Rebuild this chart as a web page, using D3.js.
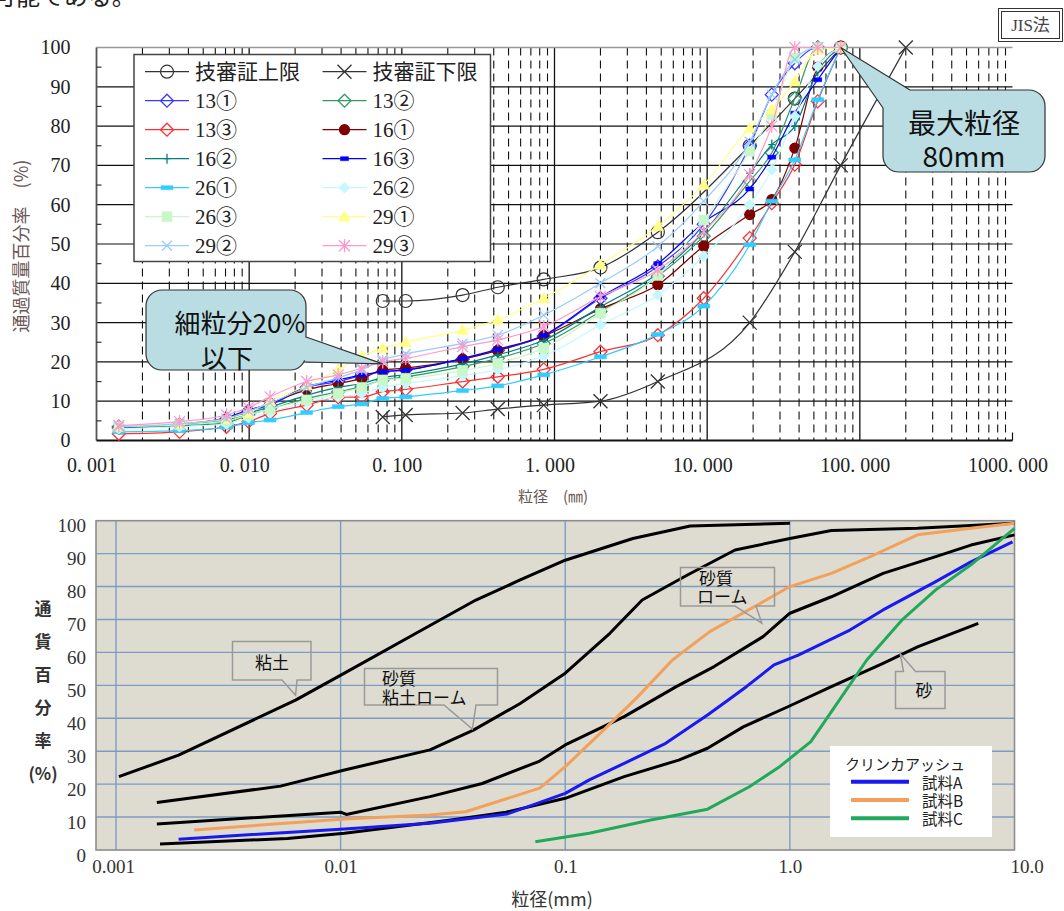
<!DOCTYPE html>
<html>
<head>
<meta charset="utf-8">
<style>
  body { margin: 0; background: #fff; }
  svg text { font-family: "Liberation Serif", "Noto Sans CJK JP", serif; }
  svg text.jp { font-family: "Noto Sans CJK JP", "Liberation Sans", sans-serif; }
  svg text.sans { font-family: "Liberation Sans", "Noto Sans CJK JP", sans-serif; }
</style>
<script src="https://cdn.jsdelivr.net/npm/d3@7"></script>
</head>
<body>
<script>
// ---- top chart data (particle size mm / passing %)
const sieveMm = [0.0014, 0.0035, 0.0071, 0.0099, 0.0137, 0.0238, 0.0383, 0.0546, 0.075, 0.106,
                 0.25, 0.425, 0.85, 2, 4.75, 9.5, 19, 26.5, 37.5, 53, 75];
const upperLimitMm  = [0.075, 0.106, 0.25, 0.425, 0.85, 2, 4.75, 19, 37.5, 75];
const upperLimitPct = [35.5, 35.5, 37, 39, 41, 44, 53, 75, 87, 100];
const lowerLimitMm  = [0.075, 0.106, 0.25, 0.425, 0.85, 2, 4.75, 19, 37.5, 75, 200];
const lowerLimitPct = [6, 6.5, 7, 8, 9, 10, 15, 30, 48, 70, 100];

const s13_1 = [3.5, 4.0, 5.5, 7.5, 9.0, 13.5, 15.0, 16.5, 17.5, 18.0, 20.7, 22.9, 26.6, 36.2, 44.3, 55.0, 75.0, 88.0, 96.0, 100, 100];
const s13_2 = [3.2, 3.8, 4.5, 6.5, 8.0, 10.7, 12.4, 13.7, 15.4, 16.2, 18.8, 20.9, 24.7, 32.8, 41.8, 52.0, 66.0, 73.2, 87.0, 100, 100];
const s13_3 = [1.7, 2.2, 3.5, 4.8, 6.9, 9.0, 11.0, 11.1, 12.4, 13.0, 15.0, 16.2, 18.1, 22.6, 26.8, 36.2, 51.5, 60.4, 70.2, 86.3, 100];
const s16_1 = [3.4, 4.2, 5.5, 7.5, 9.5, 12.9, 14.5, 15.8, 17.9, 18.4, 20.7, 22.9, 26.6, 33.5, 39.6, 49.5, 57.5, 61.3, 74.4, 95.0, 100];
const s16_2 = [3.3, 4.0, 5.0, 7.0, 8.5, 11.5, 13.5, 14.5, 16.0, 16.8, 19.5, 21.8, 25.5, 34.0, 42.5, 53.0, 68.0, 75.3, 80.0, 93.9, 100];
const s16_3 = [3.4, 4.2, 5.8, 7.8, 9.3, 13.7, 15.4, 16.7, 17.5, 17.9, 20.9, 23.2, 26.8, 36.5, 45.0, 55.5, 64.0, 72.1, 83.3, 91.8, 100];
const s26_1 = [2.2, 2.5, 3.4, 4.5, 5.2, 7.1, 8.6, 9.3, 10.7, 11.1, 12.7, 13.9, 16.7, 21.3, 27.0, 34.2, 49.8, 60.9, 71.4, 86.7, 100];
const s26_2 = [3.0, 3.5, 4.2, 5.8, 7.2, 9.8, 11.0, 12.0, 13.5, 14.5, 16.5, 18.0, 21.5, 29.4, 37.0, 46.9, 60.0, 68.9, 82.5, 95.2, 100];
const s26_3 = [3.5, 4.0, 5.0, 6.5, 8.0, 10.3, 12.0, 13.5, 15.4, 15.8, 17.8, 19.6, 23.5, 32.4, 42.0, 56.1, 73.6, 82.9, 97.3, 100, 100];
const s29_1 = [3.6, 4.3, 5.5, 7.0, 10.0, 14.0, 18.0, 21.5, 23.5, 25.0, 28.1, 30.7, 36.2, 44.7, 54.5, 65.1, 79.5, 84.2, 91.4, 99.4, 100];
const s29_2 = [3.5, 4.3, 5.6, 7.5, 9.5, 13.5, 16.0, 18.0, 20.5, 22.0, 24.7, 26.8, 31.9, 40.0, 49.4, 60.9, 76.0, 88.0, 97.0, 100, 100];
const s29_3 = [3.8, 4.8, 6.5, 8.4, 11.1, 15.0, 16.7, 18.4, 20.0, 20.9, 23.9, 25.6, 29.0, 36.6, 43.4, 53.2, 67.6, 80.0, 100, 100, 100];

const topXTicks = [0.001, 0.01, 0.1, 1, 10, 100, 1000];
const topXLabels = ["0. 001", "0. 010", "0. 100", "1. 000", "10. 000", "100. 000", "1000. 000"];
const topYTicks = [0, 10, 20, 30, 40, 50, 60, 70, 80, 90, 100];

// ---- bottom chart data
const clayMm  = [0.00103, 0.0019, 0.0063, 0.0104, 0.023, 0.04, 0.063, 0.1, 0.2, 0.36, 1.0];
const clayPct = [22.3, 28.8, 45.5, 53.7, 66.8, 75.9, 82, 88, 94.6, 98.4, 99.2];
const sandyClayLoamMm  = [0.00152, 0.0054, 0.0104, 0.025, 0.039, 0.063, 0.1, 0.158, 0.22, 0.35, 0.57, 1.0, 1.53, 3.7, 10];
const sandyClayLoamPct = [14.4, 19.4, 24.3, 30.4, 36.4, 44.5, 53.7, 65.8, 75.9, 83.5, 91.1, 94.6, 97, 97.7, 99.2];
const sandyLoamMm  = [0.00152, 0.0100, 0.0106, 0.025, 0.0427, 0.077, 0.1, 0.183, 0.312, 0.46, 0.76, 1.0, 1.53, 2.6, 4.46, 6.4, 10];
const sandyLoamPct = [7.9, 11.5, 10.8, 16.2, 20.2, 27, 31.9, 40.5, 49.6, 55.7, 64.8, 71.9, 76.9, 84, 89.1, 92.6, 95.7];
const sandMm  = [0.00157, 0.0058, 0.0104, 0.031, 0.0545, 0.1, 0.183, 0.32, 0.43, 0.62, 0.98, 1.53, 2.6, 3.7, 6.9];
const sandPct = [1.8, 3.5, 5.1, 9.1, 11.5, 15.7, 22.3, 27.3, 30.9, 37.4, 43.5, 49.6, 56.7, 61.7, 68.8];
const sampleAMm  = [0.0019, 0.0104, 0.025, 0.055, 0.1, 0.128, 0.183, 0.28, 0.43, 0.53, 0.64, 0.85, 1.09, 1.85, 2.6, 4.46, 6.4, 9.8];
const sampleAPct = [3.3, 6.4, 8.1, 10.9, 17.2, 21.3, 26.3, 32.4, 41, 45.5, 49.6, 56.2, 59.2, 66.8, 72.9, 81.5, 87.5, 93.6];
const sampleBMm  = [0.00223, 0.0104, 0.025, 0.036, 0.077, 0.1, 0.148, 0.21, 0.3, 0.44, 0.76, 1.0, 1.53, 2.2, 3.7, 6.4, 10];
const sampleBPct = [6.1, 9.4, 10.6, 11.6, 18.8, 25.3, 36.4, 46.5, 57.7, 66.3, 75.4, 80, 84, 88.6, 95.7, 97.7, 99.2];
const sampleCMm  = [0.0736, 0.128, 0.24, 0.43, 0.66, 0.9, 1.24, 1.66, 2.2, 3.15, 4.46, 6.4, 10];
const sampleCPct = [2.5, 5.1, 9.1, 12.4, 19.2, 25.3, 32.9, 45.5, 57.7, 69.8, 79, 86.6, 97.7];

const botXTicks = [0.001, 0.01, 0.1, 1, 10];
const botXLabels = ["0.001", "0.01", "0.1", "1.0", "10.0"];
const botYTicks = [0, 10, 20, 30, 40, 50, 60, 70, 80, 90, 100];

// ---- styles
const topSeries = [
  {name: "技審証上限", x: upperLimitMm, y: upperLimitPct, color: "#333", marker: "circleOpen", size: 6.5},
  {name: "技審証下限", x: lowerLimitMm, y: lowerLimitPct, color: "#333", marker: "x", size: 7},
  {name: "13①", x: sieveMm, y: s13_1, color: "#3838ff", marker: "diamondOpen", size: 6.5},
  {name: "13②", x: sieveMm, y: s13_2, color: "#339966", marker: "diamondOpen", size: 6.5},
  {name: "13③", x: sieveMm, y: s13_3, color: "#ff3030", marker: "diamondOpen", size: 6.5},
  {name: "16①", x: sieveMm, y: s16_1, color: "#800000", marker: "circleFilled", size: 5},
  {name: "16②", x: sieveMm, y: s16_2, color: "#008080", marker: "plus", size: 5},
  {name: "16③", x: sieveMm, y: s16_3, color: "#0000ff", marker: "rectSmall", size: 4},
  {name: "26①", x: sieveMm, y: s26_1, color: "#33ccff", marker: "dash", size: 6},
  {name: "26②", x: sieveMm, y: s26_2, color: "#c4f8ff", marker: "diamondFilled", size: 5.5},
  {name: "26③", x: sieveMm, y: s26_3, color: "#c8f8c8", marker: "square", size: 5},
  {name: "29①", x: sieveMm, y: s29_1, color: "#ffff88", marker: "triangle", size: 6},
  {name: "29②", x: sieveMm, y: s29_2, color: "#99ccff", marker: "x", size: 5},
  {name: "29③", x: sieveMm, y: s29_3, color: "#ff99cc", marker: "asterisk", size: 5.5}
];
const botSeries = [
  {x: clayMm, y: clayPct, color: "#000", width: 3},
  {x: sandyClayLoamMm, y: sandyClayLoamPct, color: "#000", width: 3},
  {x: sandyLoamMm, y: sandyLoamPct, color: "#000", width: 3},
  {x: sandMm, y: sandPct, color: "#000", width: 3},
  {x: sampleBMm, y: sampleBPct, color: "#f2a05a", width: 3},
  {x: sampleAMm, y: sampleAPct, color: "#1a1af0", width: 3},
  {x: sampleCMm, y: sampleCPct, color: "#22a85a", width: 3}
];
const botLegend = [
  {name: "試料A", color: "#1a1af0"},
  {name: "試料B", color: "#f2a05a"},
  {name: "試料C", color: "#22a85a"}
];

function markerPath(type, s) {
  switch (type) {
    case "x": return `M${-s},${-s}L${s},${s}M${-s},${s}L${s},${-s}`;
    case "plus": return `M0,${-s}L0,${s}M${-s * 0.7},0L${s * 0.7},0`;
    case "asterisk": return `M${-s},${-s}L${s},${s}M${-s},${s}L${s},${-s}M0,${-s * 1.2}L0,${s * 1.2}`;
    case "diamondOpen": case "diamondFilled": return `M0,${-s}L${s},0L0,${s}L${-s},0Z`;
    case "triangle": return `M0,${-s}L${s},${s * 0.75}L${-s},${s * 0.75}Z`;
    case "square": return `M${-s},${-s}h${2 * s}v${2 * s}h${-2 * s}Z`;
    case "rectSmall": return `M${-s},${-s / 2}h${2 * s}v${s}h${-2 * s}Z`;
    case "dash": return `M${-s},${-2}h${2 * s}v4h${-2 * s}Z`;
  }
  return "";
}
function drawMarker(g, sr, px, py) {
  if (sr.marker === "circleOpen" || sr.marker === "circleFilled") {
    g.append("circle").attr("cx", px).attr("cy", py).attr("r", sr.size)
      .attr("fill", sr.marker === "circleFilled" ? sr.color : "none")
      .attr("stroke", sr.color).attr("stroke-width", 1.2);
    return;
  }
  const filled = ["diamondFilled", "triangle", "square", "rectSmall", "dash"].includes(sr.marker);
  g.append("path").attr("transform", `translate(${px},${py})`)
    .attr("d", markerPath(sr.marker, sr.size))
    .attr("fill", filled ? sr.color : "none")
    .attr("stroke", sr.color).attr("stroke-width", filled ? 0.5 : 1.3);
}

const svg = d3.select("body").append("svg").attr("width", 1064).attr("height", 911);

// page text fragment at the very top (cut off in the original too)
svg.append("text").attr("class", "jp").attr("x", -8).attr("y", 5)
  .attr("font-size", 24).attr("fill", "#222").text("可能である。");

// ================= TOP CHART =================
const tx = d3.scaleLog().domain([0.001, 1000]).range([96.5, 1012.5]);
const ty = d3.scaleLinear().domain([0, 100]).range([440.5, 47.5]);
const topG = svg.append("g");

// minor dashed verticals
const minors = [];
[0.001, 0.01, 0.1, 1, 10, 100].forEach(d => { for (let k = 2; k <= 9; k++) minors.push(d * k); });
topG.selectAll("line.minor").data(minors).join("line")
  .attr("x1", d => tx(d)).attr("x2", d => tx(d)).attr("y1", ty(100)).attr("y2", ty(0))
  .attr("stroke", "#111").attr("stroke-width", 1.1).attr("stroke-dasharray", "8,5");
// horizontal grid
topG.selectAll("line.hgrid").data(topYTicks.filter(d => d > 0 && d < 100)).join("line")
  .attr("x1", tx(0.001)).attr("x2", tx(1000)).attr("y1", d => ty(d)).attr("y2", d => ty(d))
  .attr("stroke", "#111").attr("stroke-width", 1.2);
// decade verticals
topG.selectAll("line.vgrid").data(topXTicks.slice(1, -1)).join("line")
  .attr("x1", d => tx(d)).attr("x2", d => tx(d)).attr("y1", ty(100)).attr("y2", ty(0))
  .attr("stroke", "#111").attr("stroke-width", 1.3);
// top border, left axis, bottom axis
topG.append("line").attr("x1", tx(0.001)).attr("x2", tx(1000)).attr("y1", ty(100)).attr("y2", ty(100))
  .attr("stroke", "#999").attr("stroke-width", 1.5);
topG.append("line").attr("x1", tx(0.001)).attr("x2", tx(0.001)).attr("y1", ty(100)).attr("y2", ty(0))
  .attr("stroke", "#555").attr("stroke-width", 1.8);
topG.append("line").attr("x1", tx(0.001)).attr("x2", tx(1000)).attr("y1", ty(0)).attr("y2", ty(0))
  .attr("stroke", "#111").attr("stroke-width", 1.8);
topG.append("line").attr("x1", tx(1000)).attr("x2", tx(1000)).attr("y1", ty(0)).attr("y2", ty(0) - 8)
  .attr("stroke", "#111").attr("stroke-width", 1.2);
// minor y ticks (5, 15, ...)
topG.selectAll("line.ytick").data(d3.range(5, 100, 10)).join("line")
  .attr("x1", tx(0.001)).attr("x2", tx(0.001) + 5).attr("y1", d => ty(d)).attr("y2", d => ty(d))
  .attr("stroke", "#333").attr("stroke-width", 1.2);

// axes labels
const yAxisTop = topG.append("g").attr("transform", `translate(${tx(0.001) - 26},0)`)
  .call(d3.axisLeft(ty).tickValues(topYTicks).tickSize(0).tickPadding(0));
yAxisTop.select(".domain").remove();
yAxisTop.selectAll("text").attr("font-family", "Liberation Serif").attr("font-size", 20).attr("fill", "#222");
const xAxisTop = topG.append("g").attr("transform", `translate(-5,${ty(0)})`)
  .call(d3.axisBottom(tx).tickValues(topXTicks).tickFormat((d, i) => topXLabels[i]).tickSize(0).tickPadding(17));
xAxisTop.select(".domain").remove();
xAxisTop.selectAll("text").attr("font-family", "Liberation Serif").attr("font-size", 20).attr("fill", "#222");

topG.append("text").attr("class", "jp").attr("transform", "translate(20,246) rotate(-90)")
  .attr("text-anchor", "middle").attr("dominant-baseline", "central")
  .attr("font-size", 18).attr("fill", "#6a5656").text("通過質量百分率　(%)");
topG.append("text").attr("class", "jp").attr("x", 553).attr("y", 495)
  .attr("text-anchor", "middle").attr("dominant-baseline", "central")
  .attr("font-size", 15).attr("fill", "#6a5656").text("粒径　(㎜)");

// series
const lineGen = d3.line().x(d => tx(d[0])).y(d => ty(d[1])).curve(d3.curveMonotoneX);
topSeries.forEach(sr => {
  const pts = sr.x.map((v, i) => [v, sr.y[i]]);
  topG.append("path").attr("d", lineGen(pts)).attr("fill", "none")
    .attr("stroke", sr.color).attr("stroke-width", 1.2);
  const mg = topG.append("g");
  pts.forEach(p => drawMarker(mg, sr, tx(p[0]), ty(p[1])));
});

// legend
const lg = topG.append("g");
lg.append("rect").attr("x", 134).attr("y", 54.5).attr("width", 356.5).attr("height", 207)
  .attr("fill", "#fff").attr("stroke", "#444").attr("stroke-width", 1.5);
topSeries.forEach((sr, i) => {
  const col = i % 2, row = Math.floor(i / 2);
  const cx = col === 0 ? 167 : 344.5, cy = 71.7 + row * 29;
  lg.append("line").attr("x1", cx - 22).attr("x2", cx + 22).attr("y1", cy).attr("y2", cy)
    .attr("stroke", sr.color).attr("stroke-width", 1.3);
  drawMarker(lg, sr, cx, cy);
  lg.append("text").attr("x", cx + 28).attr("y", cy).attr("dominant-baseline", "central")
    .attr("font-size", 21).attr("fill", "#222").text(sr.name);
});

// JIS box
svg.append("rect").attr("x", 998.5).attr("y", 8.5).attr("width", 64).attr("height", 33)
  .attr("fill", "#fff").attr("stroke", "#333").attr("stroke-width", 1);
svg.append("rect").attr("x", 1001.5).attr("y", 11.5).attr("width", 58).attr("height", 27)
  .attr("fill", "none").attr("stroke", "#333").attr("stroke-width", 1);
svg.append("text").attr("x", 1030.5).attr("y", 25).attr("text-anchor", "middle")
  .attr("dominant-baseline", "central").attr("font-size", 17).attr("fill", "#444").text("JIS法");

// callouts (top)
function bubble(g, box, base, tip, lines) {
  g.append("rect").attr("x", box[0]).attr("y", box[1]).attr("width", box[2]).attr("height", box[3])
    .attr("rx", 16).attr("fill", "#b9dde2").attr("stroke", "#333").attr("stroke-width", 1.2);
  g.append("path").attr("d", `M${base[0][0]},${base[0][1]}L${tip[0]},${tip[1]}L${base[1][0]},${base[1][1]}L${base[2][0]},${base[2][1]}Z`)
    .attr("fill", "#b9dde2");
  g.append("path").attr("d", `M${base[0][0]},${base[0][1]}L${tip[0]},${tip[1]}L${base[1][0]},${base[1][1]}`)
    .attr("fill", "none").attr("stroke", "#333").attr("stroke-width", 1.2);
  lines.forEach(l => g.append("text").attr("class", "jp").attr("x", l[0]).attr("y", l[1])
    .attr("text-anchor", "middle").attr("dominant-baseline", "central")
    .attr("font-size", l[3]).attr("fill", "#111").text(l[2]));
}
bubble(topG, [146, 290, 160, 80], [[306, 337], [306, 362], [296, 350]], [tx(0.075), ty(19.5)],
  [[240, 321, "細粒分20%", 26], [227, 356, "以下", 26]]);
bubble(topG, [883, 90, 162, 82], [[910, 90], [883, 108], [905, 104]], [tx(75), ty(100)],
  [[964, 122, "最大粒径", 28], [964, 155, "80mm", 28]]);

// ================= BOTTOM CHART =================
const bx = d3.scaleLog().domain([0.001, 10]).range([116, 1014.5]);
const by = d3.scaleLinear().domain([0, 100]).range([850, 520.7]);
const botG = svg.append("g");
const bLeft = 96, bRight = bx(10);

botG.append("rect").attr("x", bLeft).attr("y", by(100)).attr("width", bRight - bLeft).attr("height", by(0) - by(100))
  .attr("fill", "#dedcd1");
botG.selectAll("line.bh").data(botYTicks.filter(d => d > 0 && d < 100)).join("line")
  .attr("x1", bLeft).attr("x2", bRight).attr("y1", d => by(d)).attr("y2", d => by(d))
  .attr("stroke", "#7c9cc4").attr("stroke-width", 1.4);
botG.selectAll("line.bv").data(botXTicks.slice(0, -1)).join("line")
  .attr("x1", d => bx(d)).attr("x2", d => bx(d)).attr("y1", by(100)).attr("y2", by(0))
  .attr("stroke", "#7c9cc4").attr("stroke-width", 1.4);
botG.append("rect").attr("x", bLeft).attr("y", by(100)).attr("width", bRight - bLeft).attr("height", by(0) - by(100))
  .attr("fill", "none").attr("stroke", "#8c8c8c").attr("stroke-width", 1.6);

const yAxisBot = botG.append("g").attr("transform", `translate(${bLeft - 10},5)`)
  .call(d3.axisLeft(by).tickValues(botYTicks).tickSize(0).tickPadding(0));
yAxisBot.select(".domain").remove();
yAxisBot.selectAll("text").attr("font-family", "Liberation Sans").attr("font-size", 19).attr("fill", "#333");
const xAxisBot = botG.append("g").attr("transform", `translate(0,${by(0)})`)
  .call(d3.axisBottom(bx).tickValues(botXTicks).tickFormat((d, i) => botXLabels[i]).tickSize(0).tickPadding(10));
xAxisBot.select(".domain").remove();
xAxisBot.selectAll("text").attr("font-family", "Liberation Sans").attr("font-size", 19).attr("fill", "#333");
xAxisBot.selectAll(".tick").filter(d => d === 10).select("text").attr("dx", 12);
xAxisBot.selectAll(".tick").filter(d => d === 0.001).select("text").attr("dx", -3);

["通", "貨", "百", "分", "率", "(%)"].forEach((c, i) => {
  botG.append("text").attr("class", "jp").attr("x", 43).attr("y", 607 + i * 33)
    .attr("text-anchor", "middle").attr("dominant-baseline", "central")
    .attr("font-size", 17).attr("font-weight", "bold").attr("fill", "#333").text(c);
});
botG.append("text").attr("class", "jp").attr("x", 552).attr("y", 898)
  .attr("text-anchor", "middle").attr("dominant-baseline", "central")
  .attr("font-size", 18).attr("fill", "#333").text("粒径(mm)");

// curves
const bLine = d3.line().x(d => bx(d[0])).y(d => by(d[1]));
botSeries.forEach(sr => {
  botG.append("path").attr("d", bLine(sr.x.map((v, i) => [v, sr.y[i]])))
    .attr("fill", "none").attr("stroke", sr.color).attr("stroke-width", sr.width)
    .attr("stroke-linejoin", "round");
});

// annotation boxes (transparent, gray outline, with tails)
function tag(g, pts, lines) {
  g.append("path").attr("d", "M" + pts.map(p => p.join(",")).join("L") + "Z")
    .attr("fill", "none").attr("stroke", "#999").attr("stroke-width", 1.5);
  lines.forEach(l => g.append("text").attr("class", "jp").attr("x", l[0]).attr("y", l[1])
    .attr("text-anchor", l[3] || "start").attr("dominant-baseline", "central")
    .attr("font-size", 17).attr("fill", "#111").text(l[2]));
}
tag(botG, [[282, 680], [232.5, 680], [232.5, 641.5], [311, 641.5], [311, 680], [297, 680], [bx(0.0063), by(47)]],
  [[272, 661, "粘土", "middle"]]);
tag(botG, [[444, 705], [364.5, 705], [364.5, 668.5], [497.5, 668.5], [497.5, 705], [476, 705], [bx(0.0386), by(36.7)]],
  [[382, 677, "砂質"], [382, 696, "粘土ローム"]]);
tag(botG, [[735, 606], [680.5, 606], [680.5, 567.5], [774.5, 567.5], [774.5, 606], [756, 606], [bx(0.75), by(68.9)]],
  [[699, 577.5, "砂質"], [697, 595, "ローム"]]);
tag(botG, [[903.5, 671.5], [895.5, 671.5], [895.5, 708.5], [945, 708.5], [945, 671.5], [915.5, 671.5], [bx(3.1), by(59.6)]],
  [[924, 689, "砂", "middle"]]);

// legend
const bl = botG.append("g");
bl.append("rect").attr("x", 830).attr("y", 746).attr("width", 162).attr("height", 91).attr("fill", "#fff");
bl.append("text").attr("class", "jp").attr("x", 845).attr("y", 763).attr("dominant-baseline", "central")
  .attr("font-size", 15).attr("fill", "#222").text("クリンカアッシュ");
botLegend.forEach((d, i) => {
  const y = 781.7 + i * 18.3;
  bl.append("line").attr("x1", 851).attr("x2", 909).attr("y1", y).attr("y2", y)
    .attr("stroke", d.color).attr("stroke-width", 4);
  bl.append("text").attr("class", "jp").attr("x", 922).attr("y", y).attr("dominant-baseline", "central")
    .attr("font-size", 15.5).attr("fill", "#222").text(d.name);
});
</script>
</body>
</html>
